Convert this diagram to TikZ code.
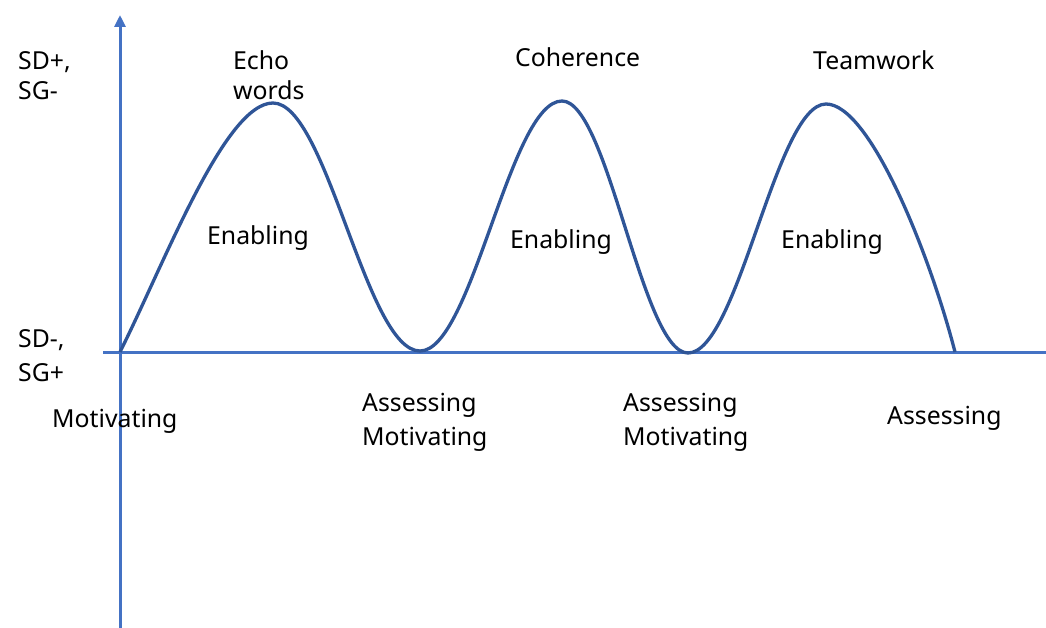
\documentclass[tikz,border=0pt]{standalone}
\usepackage{fontspec}
\setmainfont{Noto Sans}
\usetikzlibrary{arrows.meta}
\definecolor{axisblue}{HTML}{4472C4}
\definecolor{curveblue}{HTML}{2F5597}
\tikzset{
  axis/.style={draw=axisblue, line width=3pt},
  wave/.style={draw=curveblue, line width=3.3pt, line join=round},
  lbl/.style={inner sep=0pt, anchor=base west, font=\fontsize{24.8}{30}\selectfont, text=black}
}
\begin{document}
\begin{tikzpicture}[x=1pt,y=-1pt]
\useasboundingbox (0,0) rectangle (1046,628);
% axis coordinates
\coordinate (ybot) at (120,628);
\coordinate (ytop) at (120,15);
\coordinate (xl) at (103,352);
\coordinate (xr) at (1046,352);
% curve points
\coordinate (p0) at (120,352);
\coordinate (p1) at (273,103);
\coordinate (p2) at (420,351);
\coordinate (p3) at (562,101);
\coordinate (p4) at (688,353);
\coordinate (p5) at (826,104);
\coordinate (p6) at (955,352);
% axes
\draw[axis] (xl) -- (xr);
\draw[axis, -{Triangle[width=11pt,length=12pt]}] (ybot) -- (ytop);
% wave
\draw[wave] (p0) .. controls (165,262) and (225,103) .. (p1)
  .. controls (327,103) and (366,351) .. (p2)
  .. controls (472,351) and (510,101) .. (p3)
  .. controls (608,101) and (642,353) .. (p4)
  .. controls (738,353) and (776,104) .. (p5)
  .. controls (870,104) and (930,255) .. (p6);
% labels
\node[lbl] (sdp) at (18,70) {SD+,};
\node[lbl] (sgm) at (18,100) {SG-};
\node[lbl] (echo) at (233,70) {Echo};
\node[lbl] (words) at (233,100) {words};
\node[lbl] (coh) at (515,67) {Coherence};
\node[lbl] (team) at (813,70) {Teamwork};
\node[lbl] (en1) at (207,244) {Enabling};
\node[lbl] (en2) at (510,249) {Enabling};
\node[lbl] (en3) at (781,249) {Enabling};
\node[lbl] (sdm) at (18,347) {SD-,};
\node[lbl] (sgp) at (18,381) {SG+};
\node[lbl] (mot0) at (52,427) {Motivating};
\node[lbl] (as1) at (362,411) {Assessing};
\node[lbl] (mot1) at (362,445) {Motivating};
\node[lbl] (as2) at (623,411) {Assessing};
\node[lbl] (mot2) at (623,445) {Motivating};
\node[lbl] (as3) at (887,424) {Assessing};
\end{tikzpicture}
\end{document}
